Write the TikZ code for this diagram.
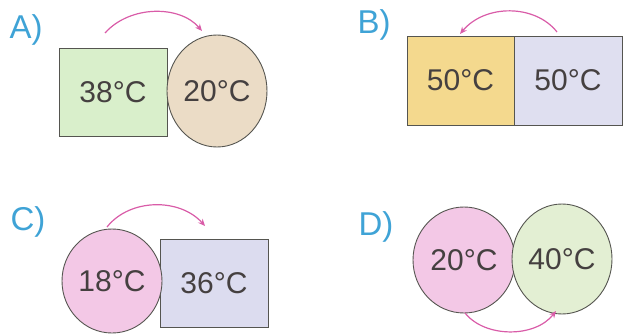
\documentclass[tikz,border=0pt]{standalone}
\usepackage{fontspec}
\setmainfont{Liberation Sans}
\usetikzlibrary{shapes.geometric,arrows.meta}
\definecolor{labelc}{HTML}{3FA3D6}
\definecolor{txtc}{HTML}{454040}
\definecolor{arrc}{HTML}{D95CA8}
\definecolor{edgec}{HTML}{555550}
\definecolor{agreen}{HTML}{D9EFCB}
\definecolor{abeige}{HTML}{EBDCC6}
\definecolor{byellow}{HTML}{F4D98E}
\definecolor{blav}{HTML}{DFDFF0}
\definecolor{cpink}{HTML}{F3C8E6}
\definecolor{clav}{HTML}{DCDCEF}
\definecolor{dgreen}{HTML}{E3EFD3}
\tikzset{
  box/.style={draw=edgec, line width=0.9pt, rectangle, inner sep=0pt, text=txtc,
    font=\fontsize{30}{36}\selectfont},
  disc/.style={draw=edgec, line width=0.9pt, ellipse, inner sep=0pt, text=txtc,
    font=\fontsize{30}{36}\selectfont},
  lbl/.style={text=labelc, inner sep=0pt, font=\fontsize{33}{36}\selectfont},
  flow/.style={draw=arrc, line width=1.2pt, -{Stealth[length=7pt,width=6pt]}}
}
\begin{document}
\begin{tikzpicture}[x=1pt,y=-1pt]
\useasboundingbox (0,0) rectangle (631,334);
% A
\node[lbl] (la) at (26,30) {A)};
\node[box, fill=agreen, minimum width=108pt, minimum height=88pt] (ra) at (113,92) {38°C};
\node[disc, fill=abeige, minimum width=100pt, minimum height=112pt] (ca) at (217,91) {20°C};
\coordinate (as) at (105,33);
\coordinate (ae) at (202,31);
\draw[flow] (as) .. controls (130,5) and (180,5) .. (ae);
% B
\node[lbl] (lb) at (374,25) {B)};
\node[box, fill=byellow, minimum width=107pt, minimum height=89pt] (rb1) at (460.5,80.5) {50°C};
\node[box, fill=blav, minimum width=108pt, minimum height=89pt] (rb2) at (568,80.5) {50°C};
\coordinate (bs) at (557,32);
\coordinate (be) at (460,34);
\draw[flow] (bs) .. controls (535,4) and (485,4) .. (be);
% C
\node[lbl] (lc) at (28,222) {C)};
\node[box, fill=clav, minimum width=108pt, minimum height=88pt] (rc) at (214,283) {36°C};
\node[disc, fill=cpink, minimum width=100pt, minimum height=104pt] (cc) at (112,281) {18°C};
\coordinate (cs) at (107,227);
\coordinate (ce) at (205,226);
\draw[flow] (cs) .. controls (130,198) and (180,198) .. (ce);
% D
\node[lbl] (ld) at (376,227) {D)};
\node[disc, fill=cpink, minimum width=102pt, minimum height=106pt] (cd1) at (464,260) {20°C};
\node[disc, fill=dgreen, minimum width=100pt, minimum height=110pt] (cd2) at (562,259) {40°C};
\coordinate (ds) at (465,313);
\coordinate (de) at (556,311);
\draw[flow] (ds) .. controls (485,338) and (535,338) .. (de);
\end{tikzpicture}
\end{document}
